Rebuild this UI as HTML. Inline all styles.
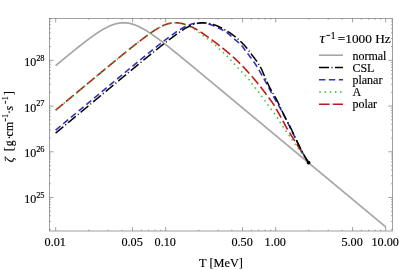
<!DOCTYPE html>
<html><head><meta charset="utf-8"><title>chart</title>
<style>html,body{margin:0;padding:0;background:#fff;overflow:hidden}body{width:399px;height:270px;position:relative;font-family:"Liberation Serif",serif}</style></head>
<body>
<svg width="399" height="270" viewBox="0 0 399 270" style="position:absolute;left:0;top:0;will-change:transform">
<rect width="399" height="270" fill="#fff"/>
<defs><clipPath id="c"><rect x="49.5" y="18.4" width="342.9" height="212.6"/></clipPath></defs>
<g clip-path="url(#c)" fill="none" stroke-linecap="butt" stroke-linejoin="round">
<path d="M55.60,65.63 L56.07,65.24 L56.54,64.85 L57.02,64.46 L57.49,64.07 L57.96,63.68 L58.43,63.29 L58.91,62.90 L59.38,62.51 L59.85,62.12 L60.32,61.74 L60.80,61.35 L61.27,60.96 L61.74,60.57 L62.21,60.18 L62.69,59.79 L63.16,59.41 L63.63,59.02 L64.10,58.63 L64.58,58.24 L65.05,57.86 L65.52,57.47 L65.99,57.08 L66.46,56.70 L66.94,56.31 L67.41,55.93 L67.88,55.54 L68.35,55.15 L68.83,54.77 L69.30,54.39 L69.77,54.00 L70.24,53.62 L70.72,53.23 L71.19,52.85 L71.66,52.47 L72.13,52.08 L72.61,51.70 L73.08,51.32 L73.55,50.94 L74.02,50.56 L74.50,50.18 L74.97,49.80 L75.44,49.42 L75.91,49.04 L76.39,48.66 L76.86,48.29 L77.33,47.91 L77.80,47.53 L78.27,47.16 L78.75,46.78 L79.22,46.41 L79.69,46.03 L80.16,45.66 L80.64,45.29 L81.11,44.92 L81.58,44.55 L82.05,44.18 L82.53,43.81 L83.00,43.44 L83.47,43.07 L83.94,42.71 L84.42,42.34 L84.89,41.98 L85.36,41.62 L85.83,41.25 L86.31,40.89 L86.78,40.54 L87.25,40.18 L87.72,39.82 L88.19,39.47 L88.67,39.11 L89.14,38.76 L89.61,38.41 L90.08,38.06 L90.56,37.72 L91.03,37.37 L91.50,37.03 L91.97,36.68 L92.45,36.35 L92.92,36.01 L93.39,35.67 L93.86,35.34 L94.34,35.01 L94.81,34.68 L95.28,34.35 L95.75,34.03 L96.23,33.70 L96.70,33.38 L97.17,33.07 L97.64,32.75 L98.12,32.44 L98.59,32.14 L99.06,31.83 L99.53,31.53 L100.00,31.23 L100.48,30.93 L100.95,30.64 L101.42,30.35 L101.89,30.07 L102.37,29.79 L102.84,29.51 L103.31,29.24 L103.78,28.97 L104.26,28.70 L104.73,28.44 L105.20,28.19 L105.67,27.93 L106.15,27.69 L106.62,27.44 L107.09,27.21 L107.56,26.97 L108.04,26.75 L108.51,26.52 L108.98,26.31 L109.45,26.10 L109.92,25.89 L110.40,25.69 L110.87,25.50 L111.34,25.31 L111.81,25.12 L112.29,24.95 L112.76,24.78 L113.23,24.61 L113.70,24.46 L114.18,24.31 L114.65,24.16 L115.12,24.03 L115.59,23.90 L116.07,23.77 L116.54,23.66 L117.01,23.55 L117.48,23.44 L117.96,23.35 L118.43,23.26 L118.90,23.18 L119.37,23.11 L119.84,23.04 L120.32,22.99 L120.79,22.94 L121.26,22.89 L121.73,22.86 L122.21,22.83 L122.68,22.81 L123.15,22.80 L123.62,22.80 L124.10,22.80 L124.57,22.82 L125.04,22.84 L125.51,22.86 L125.99,22.90 L126.46,22.94 L126.93,22.99 L127.40,23.05 L127.88,23.12 L128.35,23.19 L128.82,23.27 L129.29,23.36 L129.77,23.45 L130.24,23.56 L130.71,23.67 L131.18,23.78 L131.65,23.91 L132.13,24.04 L132.60,24.18 L133.07,24.32 L133.54,24.47 L134.02,24.63 L134.49,24.80 L134.96,24.97 L135.43,25.14 L135.91,25.33 L136.38,25.52 L136.85,25.71 L137.32,25.91 L137.80,26.12 L138.27,26.33 L138.74,26.55 L139.21,26.77 L139.69,27.00 L140.16,27.23 L140.63,27.47 L141.10,27.71 L141.57,27.96 L142.05,28.21 L142.52,28.47 L142.99,28.73 L143.46,29.00 L143.94,29.27 L144.41,29.54 L144.88,29.82 L145.35,30.10 L145.83,30.38 L146.30,30.67 L146.77,30.96 L147.24,31.26 L147.72,31.56 L148.19,31.86 L148.66,32.17 L149.13,32.47 L149.61,32.79 L150.08,33.10 L150.55,33.42 L151.02,33.74 L151.49,34.06 L151.97,34.38 L152.44,34.71 L152.91,35.04 L153.38,35.37 L153.86,35.71 L154.33,36.04 L154.80,36.38 L155.27,36.72 L155.75,37.06 L156.22,37.41 L156.69,37.75 L157.16,38.10 L157.64,38.45 L158.11,38.80 L158.58,39.15 L159.05,39.50 L159.53,39.86 L160.00,40.21 L160.47,40.57 L160.94,40.93 L161.42,41.29 L161.89,41.65 L162.36,42.02 L162.83,42.38 L163.30,42.74 L163.78,43.11 L164.25,43.48 L164.72,43.85 L165.19,44.21 L165.67,44.58 L166.14,44.95 L166.61,45.33 L167.08,45.70 L167.56,46.07 L168.03,46.44 L168.50,46.82 L168.97,47.19 L169.45,47.57 L169.92,47.95 L170.39,48.32 L170.86,48.70 L171.34,49.08 L171.81,49.46 L172.28,49.84 L172.75,50.22 L173.22,50.60 L173.70,50.98 L174.17,51.36 L174.64,51.74 L175.11,52.12 L175.59,52.51 L176.06,52.89 L176.53,53.27 L177.00,53.66 L177.48,54.04 L177.95,54.42 L178.42,54.81 L178.89,55.19 L179.37,55.58 L179.84,55.96 L180.31,56.35 L180.78,56.74 L181.26,57.12 L181.73,57.51 L182.20,57.90 L182.67,58.28 L183.15,58.67 L183.62,59.06 L184.09,59.45 L184.56,59.83 L185.03,60.22 L185.51,60.61 L185.98,61.00 L186.45,61.39 L186.92,61.78 L187.40,62.16 L187.87,62.55 L188.34,62.94 L188.81,63.33 L189.29,63.72 L189.76,64.11 L190.23,64.50 L190.70,64.89 L191.18,65.28 L191.65,65.67 L192.12,66.06 L192.59,66.45 L193.07,66.84 L193.54,67.23 L194.01,67.62 L194.48,68.01 L194.95,68.40 L195.43,68.79 L195.90,69.18 L196.37,69.58 L196.84,69.97 L197.32,70.36 L197.79,70.75 L198.26,71.14 L198.73,71.53 L199.21,71.92 L199.68,72.31 L200.15,72.70 L200.62,73.10 L201.10,73.49 L201.57,73.88 L202.04,74.27 L202.51,74.66 L202.99,75.05 L203.46,75.45 L203.93,75.84 L204.40,76.23 L204.87,76.62 L205.35,77.01 L205.82,77.40 L206.29,77.80 L206.76,78.19 L207.24,78.58 L207.71,78.97 L208.18,79.36 L208.65,79.76 L209.13,80.15 L209.60,80.54 L210.07,80.93 L210.54,81.32 L211.02,81.72 L211.49,82.11 L211.96,82.50 L212.43,82.89 L212.91,83.29 L213.38,83.68 L213.85,84.07 L214.32,84.46 L214.80,84.85 L215.27,85.25 L215.74,85.64 L216.21,86.03 L216.68,86.42 L217.16,86.82 L217.63,87.21 L218.10,87.60 L218.57,87.99 L219.05,88.39 L219.52,88.78 L219.99,89.17 L220.46,89.56 L220.94,89.96 L221.41,90.35 L221.88,90.74 L222.35,91.13 L222.83,91.53 L223.30,91.92 L223.77,92.31 L224.24,92.70 L224.72,93.10 L225.19,93.49 L225.66,93.88 L226.13,94.27 L226.60,94.67 L227.08,95.06 L227.55,95.45 L228.02,95.84 L228.49,96.24 L228.97,96.63 L229.44,97.02 L229.91,97.41 L230.38,97.81 L230.86,98.20 L231.33,98.59 L231.80,98.98 L232.27,99.38 L232.75,99.77 L233.22,100.16 L233.69,100.55 L234.16,100.95 L234.64,101.34 L235.11,101.73 L235.58,102.12 L236.05,102.52 L236.53,102.91 L237.00,103.30 L237.47,103.70 L237.94,104.09 L238.41,104.48 L238.89,104.87 L239.36,105.27 L239.83,105.66 L240.30,106.05 L240.78,106.44 L241.25,106.84 L241.72,107.23 L242.19,107.62 L242.67,108.01 L243.14,108.41 L243.61,108.80 L244.08,109.19 L244.56,109.58 L245.03,109.98 L245.50,110.37 L245.97,110.76 L246.45,111.16 L246.92,111.55 L247.39,111.94 L247.86,112.33 L248.33,112.73 L248.81,113.12 L249.28,113.51 L249.75,113.90 L250.22,114.30 L250.70,114.69 L251.17,115.08 L251.64,115.47 L252.11,115.87 L252.59,116.26 L253.06,116.65 L253.53,117.05 L254.00,117.44 L254.48,117.83 L254.95,118.22 L255.42,118.62 L255.89,119.01 L256.37,119.40 L256.84,119.79 L257.31,120.19 L257.78,120.58 L258.25,120.97 L258.73,121.36 L259.20,121.76 L259.67,122.15 L260.14,122.54 L260.62,122.94 L261.09,123.33 L261.56,123.72 L262.03,124.11 L262.51,124.51 L262.98,124.90 L263.45,125.29 L263.92,125.68 L264.40,126.08 L264.87,126.47 L265.34,126.86 L265.81,127.25 L266.29,127.65 L266.76,128.04 L267.23,128.43 L267.70,128.83 L268.18,129.22 L268.65,129.61 L269.12,130.00 L269.59,130.40 L270.06,130.79 L270.54,131.18 L271.01,131.57 L271.48,131.97 L271.95,132.36 L272.43,132.75 L272.90,133.15 L273.37,133.54 L273.84,133.93 L274.32,134.32 L274.79,134.72 L275.26,135.11 L275.73,135.50 L276.21,135.89 L276.68,136.29 L277.15,136.68 L277.62,137.07 L278.10,137.46 L278.57,137.86 L279.04,138.25 L279.51,138.64 L279.98,139.04 L280.46,139.43 L280.93,139.82 L281.40,140.21 L281.87,140.61 L282.35,141.00 L282.82,141.39 L283.29,141.78 L283.76,142.18 L284.24,142.57 L284.71,142.96 L285.18,143.35 L285.65,143.75 L286.13,144.14 L286.60,144.53 L287.07,144.93 L287.54,145.32 L288.02,145.71 L288.49,146.10 L288.96,146.50 L289.43,146.89 L289.91,147.28 L290.38,147.67 L290.85,148.07 L291.32,148.46 L291.79,148.85 L292.27,149.25 L292.74,149.64 L293.21,150.03 L293.68,150.42 L294.16,150.82 L294.63,151.21 L295.10,151.60 L295.57,151.99 L296.05,152.39 L296.52,152.78 L296.99,153.17 L297.46,153.56 L297.94,153.96 L298.41,154.35 L298.88,154.74 L299.35,155.14 L299.83,155.53 L300.30,155.92 L300.77,156.31 L301.24,156.71 L301.71,157.10 L302.19,157.49 L302.66,157.88 L303.13,158.28 L303.60,158.67 L304.08,159.06 L304.55,159.45 L305.02,159.85 L305.49,160.24 L305.97,160.63 L306.44,161.03 L306.91,161.42 L307.38,161.81 L307.86,162.20 L308.33,162.60 L308.80,162.99 L309.27,163.38 L309.75,163.77 L310.22,164.17 L310.69,164.56 L311.16,164.95 L311.63,165.35 L312.11,165.74 L312.58,166.13 L313.05,166.52 L313.52,166.92 L314.00,167.31 L314.47,167.70 L314.94,168.09 L315.41,168.49 L315.89,168.88 L316.36,169.27 L316.83,169.66 L317.30,170.06 L317.78,170.45 L318.25,170.84 L318.72,171.24 L319.19,171.63 L319.67,172.02 L320.14,172.41 L320.61,172.81 L321.08,173.20 L321.56,173.59 L322.03,173.98 L322.50,174.38 L322.97,174.77 L323.44,175.16 L323.92,175.55 L324.39,175.95 L324.86,176.34 L325.33,176.73 L325.81,177.13 L326.28,177.52 L326.75,177.91 L327.22,178.30 L327.70,178.70 L328.17,179.09 L328.64,179.48 L329.11,179.87 L329.59,180.27 L330.06,180.66 L330.53,181.05 L331.00,181.45 L331.48,181.84 L331.95,182.23 L332.42,182.62 L332.89,183.02 L333.36,183.41 L333.84,183.80 L334.31,184.19 L334.78,184.59 L335.25,184.98 L335.73,185.37 L336.20,185.76 L336.67,186.16 L337.14,186.55 L337.62,186.94 L338.09,187.34 L338.56,187.73 L339.03,188.12 L339.51,188.51 L339.98,188.91 L340.45,189.30 L340.92,189.69 L341.40,190.08 L341.87,190.48 L342.34,190.87 L342.81,191.26 L343.28,191.66 L343.76,192.05 L344.23,192.44 L344.70,192.83 L345.17,193.23 L345.65,193.62 L346.12,194.01 L346.59,194.40 L347.06,194.80 L347.54,195.19 L348.01,195.58 L348.48,195.97 L348.95,196.37 L349.43,196.76 L349.90,197.15 L350.37,197.55 L350.84,197.94 L351.32,198.33 L351.79,198.72 L352.26,199.12 L352.73,199.51 L353.21,199.90 L353.68,200.29 L354.15,200.69 L354.62,201.08 L355.09,201.47 L355.57,201.86 L356.04,202.26 L356.51,202.65 L356.98,203.04 L357.46,203.44 L357.93,203.83 L358.40,204.22 L358.87,204.61 L359.35,205.01 L359.82,205.40 L360.29,205.79 L360.76,206.18 L361.24,206.58 L361.71,206.97 L362.18,207.36 L362.65,207.76 L363.13,208.15 L363.60,208.54 L364.07,208.93 L364.54,209.33 L365.01,209.72 L365.49,210.11 L365.96,210.50 L366.43,210.90 L366.90,211.29 L367.38,211.68 L367.85,212.07 L368.32,212.47 L368.79,212.86 L369.27,213.25 L369.74,213.65 L370.21,214.04 L370.68,214.43 L371.16,214.82 L371.63,215.22 L372.10,215.61 L372.57,216.00 L373.05,216.39 L373.52,216.79 L373.99,217.18 L374.46,217.57 L374.94,217.96 L375.41,218.36 L375.88,218.75 L376.35,219.14 L376.82,219.54 L377.30,219.93 L377.77,220.32 L378.24,220.71 L378.71,221.11 L379.19,221.50 L379.66,221.89 L380.13,222.28 L380.60,222.68 L381.08,223.07 L381.55,223.46 L382.02,223.86 L382.49,224.25 L382.97,224.64 L383.44,225.03 L383.91,225.43 L384.38,225.82 L384.86,226.21 L385.33,226.60 L385.80,227.00" stroke="#a6a6a6" stroke-width="1.7"/>
<path d="M55.60,130.15 L56.02,129.80 L56.44,129.45 L56.87,129.10 L57.29,128.75 L57.71,128.40 L58.13,128.05 L58.56,127.70 L58.98,127.34 L59.40,126.99 L59.82,126.64 L60.25,126.29 L60.67,125.94 L61.09,125.59 L61.51,125.24 L61.94,124.89 L62.36,124.54 L62.78,124.18 L63.20,123.83 L63.63,123.48 L64.05,123.13 L64.47,122.78 L64.89,122.43 L65.31,122.08 L65.74,121.73 L66.16,121.38 L66.58,121.02 L67.00,120.67 L67.43,120.32 L67.85,119.97 L68.27,119.62 L68.69,119.27 L69.12,118.92 L69.54,118.57 L69.96,118.22 L70.38,117.87 L70.81,117.51 L71.23,117.16 L71.65,116.81 L72.07,116.46 L72.49,116.11 L72.92,115.76 L73.34,115.41 L73.76,115.06 L74.18,114.71 L74.61,114.35 L75.03,114.00 L75.45,113.65 L75.87,113.30 L76.30,112.95 L76.72,112.60 L77.14,112.25 L77.56,111.90 L77.99,111.55 L78.41,111.19 L78.83,110.84 L79.25,110.49 L79.68,110.14 L80.10,109.79 L80.52,109.44 L80.94,109.09 L81.36,108.74 L81.79,108.39 L82.21,108.03 L82.63,107.68 L83.05,107.33 L83.48,106.98 L83.90,106.63 L84.32,106.28 L84.74,105.93 L85.17,105.58 L85.59,105.23 L86.01,104.88 L86.43,104.52 L86.86,104.17 L87.28,103.82 L87.70,103.47 L88.12,103.12 L88.54,102.77 L88.97,102.42 L89.39,102.07 L89.81,101.72 L90.23,101.36 L90.66,101.01 L91.08,100.66 L91.50,100.31 L91.92,99.96 L92.35,99.61 L92.77,99.26 L93.19,98.91 L93.61,98.56 L94.04,98.21 L94.46,97.85 L94.88,97.50 L95.30,97.15 L95.73,96.80 L96.15,96.45 L96.57,96.10 L96.99,95.75 L97.41,95.40 L97.84,95.05 L98.26,94.70 L98.68,94.34 L99.10,93.99 L99.53,93.64 L99.95,93.29 L100.37,92.94 L100.79,92.59 L101.22,92.24 L101.64,91.89 L102.06,91.54 L102.48,91.19 L102.91,90.83 L103.33,90.48 L103.75,90.13 L104.17,89.78 L104.59,89.43 L105.02,89.08 L105.44,88.73 L105.86,88.38 L106.28,88.03 L106.71,87.68 L107.13,87.33 L107.55,86.98 L107.97,86.62 L108.40,86.27 L108.82,85.92 L109.24,85.57 L109.66,85.22 L110.09,84.87 L110.51,84.52 L110.93,84.17 L111.35,83.82 L111.78,83.47 L112.20,83.12 L112.62,82.77 L113.04,82.42 L113.46,82.06 L113.89,81.71 L114.31,81.36 L114.73,81.01 L115.15,80.66 L115.58,80.31 L116.00,79.96 L116.42,79.61 L116.84,79.26 L117.27,78.91 L117.69,78.56 L118.11,78.21 L118.53,77.86 L118.96,77.51 L119.38,77.16 L119.80,76.81 L120.22,76.46 L120.65,76.11 L121.07,75.76 L121.49,75.41 L121.91,75.06 L122.33,74.71 L122.76,74.36 L123.18,74.01 L123.60,73.66 L124.02,73.31 L124.45,72.96 L124.87,72.61 L125.29,72.26 L125.71,71.91 L126.14,71.56 L126.56,71.21 L126.98,70.86 L127.40,70.51 L127.83,70.16 L128.25,69.81 L128.67,69.46 L129.09,69.11 L129.51,68.76 L129.94,68.41 L130.36,68.06 L130.78,67.71 L131.20,67.36 L131.63,67.01 L132.05,66.66 L132.47,66.31 L132.89,65.97 L133.32,65.62 L133.74,65.27 L134.16,64.92 L134.58,64.57 L135.01,64.22 L135.43,63.87 L135.85,63.53 L136.27,63.18 L136.70,62.83 L137.12,62.48 L137.54,62.13 L137.96,61.79 L138.38,61.44 L138.81,61.09 L139.23,60.74 L139.65,60.40 L140.07,60.05 L140.50,59.70 L140.92,59.36 L141.34,59.01 L141.76,58.66 L142.19,58.32 L142.61,57.97 L143.03,57.63 L143.45,57.28 L143.88,56.93 L144.30,56.59 L144.72,56.24 L145.14,55.90 L145.56,55.55 L145.99,55.21 L146.41,54.87 L146.83,54.52 L147.25,54.18 L147.68,53.83 L148.10,53.49 L148.52,53.15 L148.94,52.81 L149.37,52.46 L149.79,52.12 L150.21,51.78 L150.63,51.44 L151.06,51.10 L151.48,50.76 L151.90,50.42 L152.32,50.08 L152.75,49.74 L153.17,49.40 L153.59,49.06 L154.01,48.72 L154.43,48.38 L154.86,48.05 L155.28,47.71 L155.70,47.37 L156.12,47.04 L156.55,46.70 L156.97,46.37 L157.39,46.03 L157.81,45.70 L158.24,45.37 L158.66,45.03 L159.08,44.70 L159.50,44.37 L159.93,44.04 L160.35,43.72 L160.77,43.39 L161.19,43.06 L161.62,42.74 L162.04,42.41 L162.46,42.09 L162.88,41.77 L163.30,41.45 L163.73,41.12 L164.15,40.80 L164.57,40.48 L164.99,40.17 L165.42,39.85 L165.84,39.53 L166.26,39.21 L166.68,38.90 L167.11,38.58 L167.53,38.27 L167.95,37.95 L168.37,37.64 L168.80,37.33 L169.22,37.02 L169.64,36.70 L170.06,36.39 L170.48,36.09 L170.91,35.78 L171.33,35.47 L171.75,35.16 L172.17,34.86 L172.60,34.56 L173.02,34.25 L173.44,33.95 L173.86,33.66 L174.29,33.36 L174.71,33.07 L175.13,32.77 L175.55,32.48 L175.98,32.19 L176.40,31.91 L176.82,31.62 L177.24,31.34 L177.67,31.06 L178.09,30.79 L178.51,30.51 L178.93,30.24 L179.35,29.98 L179.78,29.71 L180.20,29.45 L180.62,29.20 L181.04,28.94 L181.47,28.69 L181.89,28.44 L182.31,28.20 L182.73,27.96 L183.16,27.73 L183.58,27.50 L184.00,27.27 L184.42,27.05 L184.85,26.83 L185.27,26.62 L185.69,26.41 L186.11,26.21 L186.53,26.01 L186.96,25.82 L187.38,25.63 L187.80,25.45 L188.22,25.28 L188.65,25.11 L189.07,24.94 L189.49,24.78 L189.91,24.63 L190.34,24.48 L190.76,24.34 L191.18,24.20 L191.60,24.07 L192.03,23.94 L192.45,23.83 L192.87,23.72 L193.29,23.61 L193.72,23.51 L194.14,23.42 L194.56,23.33 L194.98,23.25 L195.40,23.18 L195.83,23.11 L196.25,23.05 L196.67,23.00 L197.09,22.95 L197.52,22.91 L197.94,22.88 L198.36,22.85 L198.78,22.83 L199.21,22.81 L199.63,22.80 L200.05,22.80 L200.47,22.80 L200.90,22.81 L201.32,22.83 L201.74,22.85 L202.16,22.88 L202.58,22.92 L203.01,22.96 L203.43,23.00 L203.85,23.06 L204.27,23.12 L204.70,23.18 L205.12,23.25 L205.54,23.33 L205.96,23.41 L206.39,23.49 L206.81,23.59 L207.23,23.69 L207.65,23.79 L208.08,23.90 L208.50,24.01 L208.92,24.13 L209.34,24.25 L209.77,24.38 L210.19,24.52 L210.61,24.66 L211.03,24.80 L211.45,24.95 L211.88,25.10 L212.30,25.25 L212.72,25.41 L213.14,25.58 L213.57,25.75 L213.99,25.92 L214.41,26.10 L214.83,26.28 L215.26,26.46 L215.68,26.65 L216.10,26.84 L216.52,27.04 L216.95,27.24 L217.37,27.44 L217.79,27.64 L218.21,27.85 L218.64,28.06 L219.06,28.26 L219.48,28.47 L219.90,28.68 L220.32,28.89 L220.75,29.10 L221.17,29.31 L221.59,29.53 L222.01,29.75 L222.44,29.97 L222.86,30.20 L223.28,30.43 L223.70,30.67 L224.13,30.91 L224.55,31.16 L224.97,31.41 L225.39,31.67 L225.82,31.94 L226.24,32.22 L226.66,32.51 L227.08,32.81 L227.50,33.12 L227.93,33.44 L228.35,33.77 L228.77,34.11 L229.19,34.46 L229.62,34.81 L230.04,35.17 L230.46,35.54 L230.88,35.91 L231.31,36.29 L231.73,36.66 L232.15,37.04 L232.57,37.42 L233.00,37.80 L233.42,38.18 L233.84,38.56 L234.26,38.93 L234.69,39.30 L235.11,39.66 L235.53,40.02 L235.95,40.37 L236.37,40.73 L236.80,41.08 L237.22,41.44 L237.64,41.80 L238.06,42.16 L238.49,42.53 L238.91,42.90 L239.33,43.29 L239.75,43.68 L240.18,44.08 L240.60,44.49 L241.02,44.92 L241.44,45.36 L241.87,45.82 L242.29,46.30 L242.71,46.82 L243.13,47.38 L243.55,47.96 L243.98,48.57 L244.40,49.18 L244.82,49.79 L245.24,50.39 L245.67,50.96 L246.09,51.53 L246.51,52.09 L246.93,52.64 L247.36,53.20 L247.78,53.74 L248.20,54.29 L248.62,54.83 L249.05,55.38 L249.47,55.92 L249.89,56.47 L250.31,57.02 L250.74,57.57 L251.16,58.13 L251.58,58.69 L252.00,59.26 L252.42,59.83 L252.85,60.42 L253.27,61.01 L253.69,61.61 L254.11,62.23 L254.54,62.85 L254.96,63.49 L255.38,64.14 L255.80,64.80 L256.23,65.47 L256.65,66.14 L257.07,66.82 L257.49,67.52 L257.92,68.21 L258.34,68.92 L258.76,69.63 L259.18,70.35 L259.61,71.07 L260.03,71.80 L260.45,72.53 L260.87,73.27 L261.29,74.01 L261.72,74.75 L262.14,75.49 L262.56,76.24 L262.98,76.99 L263.41,77.74 L263.83,78.49 L264.25,79.24 L264.67,79.99 L265.10,80.75 L265.52,81.52 L265.94,82.29 L266.36,83.08 L266.79,83.86 L267.21,84.66 L267.63,85.46 L268.05,86.26 L268.47,87.06 L268.90,87.87 L269.32,88.68 L269.74,89.49 L270.16,90.29 L270.59,91.10 L271.01,91.90 L271.43,92.70 L271.85,93.50 L272.28,94.29 L272.70,95.07 L273.12,95.85 L273.54,96.62 L273.97,97.38 L274.39,98.13 L274.81,98.87 L275.23,99.60 L275.66,100.32 L276.08,101.04 L276.50,101.75 L276.92,102.46 L277.34,103.17 L277.77,103.88 L278.19,104.60 L278.61,105.33 L279.03,106.07 L279.46,106.82 L279.88,107.59 L280.30,108.36 L280.72,109.14 L281.15,109.92 L281.57,110.71 L281.99,111.51 L282.41,112.31 L282.84,113.12 L283.26,113.93 L283.68,114.74 L284.10,115.56 L284.52,116.38 L284.95,117.20 L285.37,118.03 L285.79,118.86 L286.21,119.69 L286.64,120.52 L287.06,121.36 L287.48,122.19 L287.90,123.03 L288.33,123.87 L288.75,124.70 L289.17,125.54 L289.59,126.38 L290.02,127.23 L290.44,128.09 L290.86,128.96 L291.28,129.83 L291.71,130.71 L292.13,131.59 L292.55,132.47 L292.97,133.36 L293.39,134.25 L293.82,135.14 L294.24,136.03 L294.66,136.92 L295.08,137.81 L295.51,138.70 L295.93,139.58 L296.35,140.46 L296.77,141.34 L297.20,142.22 L297.62,143.08 L298.04,143.95 L298.46,144.80 L298.89,145.65 L299.31,146.48 L299.73,147.31 L300.15,148.13 L300.57,148.94 L301.00,149.74 L301.42,150.52 L301.84,151.30 L302.26,152.07 L302.69,152.83 L303.11,153.58 L303.53,154.33 L303.95,155.07 L304.38,155.81 L304.80,156.54 L305.22,157.26 L305.64,157.97 L306.07,158.68 L306.49,159.39 L306.91,160.09 L307.33,160.78 L307.76,161.46 L308.18,162.15 L308.60,162.82" stroke="#3232c0" stroke-width="1.6" stroke-dasharray="6.4 3.6"/>
<path d="M55.60,110.20 L56.02,109.85 L56.44,109.50 L56.87,109.15 L57.29,108.80 L57.71,108.45 L58.13,108.10 L58.56,107.75 L58.98,107.39 L59.40,107.04 L59.82,106.69 L60.25,106.34 L60.67,105.99 L61.09,105.64 L61.51,105.29 L61.94,104.94 L62.36,104.59 L62.78,104.24 L63.20,103.88 L63.63,103.53 L64.05,103.18 L64.47,102.83 L64.89,102.48 L65.31,102.13 L65.74,101.78 L66.16,101.43 L66.58,101.08 L67.00,100.72 L67.43,100.37 L67.85,100.02 L68.27,99.67 L68.69,99.32 L69.12,98.97 L69.54,98.62 L69.96,98.27 L70.38,97.92 L70.81,97.57 L71.23,97.21 L71.65,96.86 L72.07,96.51 L72.49,96.16 L72.92,95.81 L73.34,95.46 L73.76,95.11 L74.18,94.76 L74.61,94.41 L75.03,94.06 L75.45,93.70 L75.87,93.35 L76.30,93.00 L76.72,92.65 L77.14,92.30 L77.56,91.95 L77.99,91.60 L78.41,91.25 L78.83,90.90 L79.25,90.55 L79.68,90.20 L80.10,89.84 L80.52,89.49 L80.94,89.14 L81.36,88.79 L81.79,88.44 L82.21,88.09 L82.63,87.74 L83.05,87.39 L83.48,87.04 L83.90,86.69 L84.32,86.34 L84.74,85.99 L85.17,85.63 L85.59,85.28 L86.01,84.93 L86.43,84.58 L86.86,84.23 L87.28,83.88 L87.70,83.53 L88.12,83.18 L88.54,82.83 L88.97,82.48 L89.39,82.13 L89.81,81.78 L90.23,81.43 L90.66,81.08 L91.08,80.72 L91.50,80.37 L91.92,80.02 L92.35,79.67 L92.77,79.32 L93.19,78.97 L93.61,78.62 L94.04,78.27 L94.46,77.92 L94.88,77.57 L95.30,77.22 L95.73,76.87 L96.15,76.52 L96.57,76.17 L96.99,75.82 L97.41,75.47 L97.84,75.12 L98.26,74.77 L98.68,74.42 L99.10,74.07 L99.53,73.72 L99.95,73.37 L100.37,73.02 L100.79,72.67 L101.22,72.32 L101.64,71.97 L102.06,71.62 L102.48,71.27 L102.91,70.92 L103.33,70.57 L103.75,70.22 L104.17,69.87 L104.59,69.52 L105.02,69.17 L105.44,68.82 L105.86,68.47 L106.28,68.12 L106.71,67.77 L107.13,67.42 L107.55,67.07 L107.97,66.73 L108.40,66.38 L108.82,66.03 L109.24,65.68 L109.66,65.33 L110.09,64.98 L110.51,64.63 L110.93,64.28 L111.35,63.94 L111.78,63.59 L112.20,63.24 L112.62,62.89 L113.04,62.54 L113.46,62.20 L113.89,61.85 L114.31,61.50 L114.73,61.15 L115.15,60.81 L115.58,60.46 L116.00,60.11 L116.42,59.76 L116.84,59.42 L117.27,59.07 L117.69,58.72 L118.11,58.38 L118.53,58.03 L118.96,57.69 L119.38,57.34 L119.80,57.00 L120.22,56.65 L120.65,56.30 L121.07,55.96 L121.49,55.62 L121.91,55.27 L122.33,54.93 L122.76,54.58 L123.18,54.24 L123.60,53.90 L124.02,53.55 L124.45,53.21 L124.87,52.87 L125.29,52.52 L125.71,52.18 L126.14,51.84 L126.56,51.50 L126.98,51.16 L127.40,50.82 L127.83,50.48 L128.25,50.14 L128.67,49.80 L129.09,49.46 L129.51,49.12 L129.94,48.78 L130.36,48.44 L130.78,48.11 L131.20,47.77 L131.63,47.43 L132.05,47.10 L132.47,46.76 L132.89,46.43 L133.32,46.09 L133.74,45.76 L134.16,45.43 L134.58,45.09 L135.01,44.76 L135.43,44.43 L135.85,44.10 L136.27,43.77 L136.70,43.44 L137.12,43.11 L137.54,42.79 L137.96,42.46 L138.38,42.14 L138.81,41.82 L139.23,41.50 L139.65,41.18 L140.07,40.86 L140.50,40.54 L140.92,40.22 L141.34,39.91 L141.76,39.59 L142.19,39.27 L142.61,38.96 L143.03,38.64 L143.45,38.33 L143.88,38.01 L144.30,37.70 L144.72,37.39 L145.14,37.07 L145.56,36.76 L145.99,36.44 L146.41,36.13 L146.83,35.82 L147.25,35.51 L147.68,35.20 L148.10,34.89 L148.52,34.58 L148.94,34.27 L149.37,33.97 L149.79,33.66 L150.21,33.36 L150.63,33.06 L151.06,32.76 L151.48,32.46 L151.90,32.17 L152.32,31.87 L152.75,31.58 L153.17,31.30 L153.59,31.01 L154.01,30.73 L154.43,30.45 L154.86,30.17 L155.28,29.90 L155.70,29.63 L156.12,29.36 L156.55,29.10 L156.97,28.84 L157.39,28.58 L157.81,28.33 L158.24,28.08 L158.66,27.84 L159.08,27.60 L159.50,27.36 L159.93,27.13 L160.35,26.91 L160.77,26.69 L161.19,26.47 L161.62,26.26 L162.04,26.06 L162.46,25.86 L162.88,25.67 L163.30,25.48 L163.73,25.29 L164.15,25.12 L164.57,24.95 L164.99,24.78 L165.42,24.62 L165.84,24.47 L166.26,24.33 L166.68,24.19 L167.11,24.05 L167.53,23.93 L167.95,23.81 L168.37,23.69 L168.80,23.59 L169.22,23.49 L169.64,23.39 L170.06,23.31 L170.48,23.23 L170.91,23.16 L171.33,23.09 L171.75,23.03 L172.17,22.98 L172.60,22.93 L173.02,22.89 L173.44,22.86 L173.86,22.84 L174.29,22.82 L174.71,22.81 L175.13,22.80 L175.55,22.80 L175.98,22.81 L176.40,22.82 L176.82,22.84 L177.24,22.87 L177.67,22.90 L178.09,22.94 L178.51,22.98 L178.93,23.03 L179.35,23.08 L179.78,23.14 L180.20,23.21 L180.62,23.28 L181.04,23.36 L181.47,23.44 L181.89,23.53 L182.31,23.62 L182.73,23.72 L183.16,23.82 L183.58,23.93 L184.00,24.04 L184.42,24.16 L184.85,24.28 L185.27,24.41 L185.69,24.54 L186.11,24.68 L186.53,24.82 L186.96,24.97 L187.38,25.12 L187.80,25.28 L188.22,25.44 L188.65,25.60 L189.07,25.77 L189.49,25.95 L189.91,26.12 L190.34,26.31 L190.76,26.49 L191.18,26.68 L191.60,26.88 L192.03,27.08 L192.45,27.28 L192.87,27.49 L193.29,27.70 L193.72,27.92 L194.14,28.14 L194.56,28.36 L194.98,28.59 L195.40,28.82 L195.83,29.06 L196.25,29.30 L196.67,29.54 L197.09,29.79 L197.52,30.04 L197.94,30.30 L198.36,30.56 L198.78,30.82 L199.21,31.08 L199.63,31.35 L200.05,31.62 L200.47,31.89 L200.90,32.17 L201.32,32.44 L201.74,32.72 L202.16,33.01 L202.58,33.29 L203.01,33.58 L203.43,33.87 L203.85,34.16 L204.27,34.45 L204.70,34.74 L205.12,35.04 L205.54,35.34 L205.96,35.64 L206.39,35.93 L206.81,36.23 L207.23,36.54 L207.65,36.84 L208.08,37.14 L208.50,37.44 L208.92,37.75 L209.34,38.05 L209.77,38.36 L210.19,38.66 L210.61,38.97 L211.03,39.28 L211.45,39.59 L211.88,39.89 L212.30,40.20 L212.72,40.51 L213.14,40.83 L213.57,41.14 L213.99,41.45 L214.41,41.77 L214.83,42.08 L215.26,42.40 L215.68,42.71 L216.10,43.03 L216.52,43.35 L216.95,43.68 L217.37,44.00 L217.79,44.32 L218.21,44.65 L218.64,44.97 L219.06,45.30 L219.48,45.63 L219.90,45.96 L220.32,46.30 L220.75,46.63 L221.17,46.97 L221.59,47.30 L222.01,47.64 L222.44,47.97 L222.86,48.31 L223.28,48.65 L223.70,48.99 L224.13,49.33 L224.55,49.67 L224.97,50.01 L225.39,50.35 L225.82,50.70 L226.24,51.04 L226.66,51.39 L227.08,51.74 L227.50,52.10 L227.93,52.45 L228.35,52.81 L228.77,53.17 L229.19,53.53 L229.62,53.89 L230.04,54.26 L230.46,54.63 L230.88,55.00 L231.31,55.37 L231.73,55.75 L232.15,56.12 L232.57,56.50 L233.00,56.88 L233.42,57.26 L233.84,57.65 L234.26,58.03 L234.69,58.42 L235.11,58.81 L235.53,59.20 L235.95,59.60 L236.37,60.00 L236.80,60.39 L237.22,60.80 L237.64,61.20 L238.06,61.61 L238.49,62.01 L238.91,62.43 L239.33,62.84 L239.75,63.26 L240.18,63.68 L240.60,64.10 L241.02,64.52 L241.44,64.95 L241.87,65.39 L242.29,65.82 L242.71,66.27 L243.13,66.71 L243.55,67.16 L243.98,67.61 L244.40,68.07 L244.82,68.53 L245.24,68.99 L245.67,69.45 L246.09,69.91 L246.51,70.38 L246.93,70.85 L247.36,71.32 L247.78,71.79 L248.20,72.26 L248.62,72.73 L249.05,73.20 L249.47,73.67 L249.89,74.14 L250.31,74.61 L250.74,75.09 L251.16,75.56 L251.58,76.03 L252.00,76.50 L252.42,76.98 L252.85,77.46 L253.27,77.94 L253.69,78.42 L254.11,78.91 L254.54,79.40 L254.96,79.90 L255.38,80.40 L255.80,80.91 L256.23,81.42 L256.65,81.94 L257.07,82.47 L257.49,82.99 L257.92,83.53 L258.34,84.06 L258.76,84.60 L259.18,85.13 L259.61,85.67 L260.03,86.21 L260.45,86.75 L260.87,87.29 L261.29,87.83 L261.72,88.37 L262.14,88.92 L262.56,89.47 L262.98,90.01 L263.41,90.57 L263.83,91.12 L264.25,91.67 L264.67,92.23 L265.10,92.79 L265.52,93.35 L265.94,93.91 L266.36,94.48 L266.79,95.05 L267.21,95.62 L267.63,96.18 L268.05,96.74 L268.47,97.30 L268.90,97.87 L269.32,98.43 L269.74,99.00 L270.16,99.57 L270.59,100.14 L271.01,100.73 L271.43,101.31 L271.85,101.91 L272.28,102.51 L272.70,103.13 L273.12,103.75 L273.54,104.39 L273.97,105.03 L274.39,105.70 L274.81,106.38 L275.23,107.09 L275.66,107.81 L276.08,108.55 L276.50,109.30 L276.92,110.06 L277.34,110.82 L277.77,111.60 L278.19,112.37 L278.61,113.14 L279.03,113.92 L279.46,114.68 L279.88,115.44 L280.30,116.20 L280.72,116.97 L281.15,117.74 L281.57,118.52 L281.99,119.29 L282.41,120.08 L282.84,120.86 L283.26,121.64 L283.68,122.42 L284.10,123.20 L284.52,123.98 L284.95,124.75 L285.37,125.52 L285.79,126.28 L286.21,127.04 L286.64,127.79 L287.06,128.53 L287.48,129.26 L287.90,129.98 L288.33,130.68 L288.75,131.38 L289.17,132.08 L289.59,132.76 L290.02,133.44 L290.44,134.12 L290.86,134.79 L291.28,135.45 L291.71,136.11 L292.13,136.78 L292.55,137.43 L292.97,138.09 L293.39,138.75 L293.82,139.41 L294.24,140.07 L294.66,140.73 L295.08,141.40 L295.51,142.07 L295.93,142.74 L296.35,143.41 L296.77,144.08 L297.20,144.75 L297.62,145.42 L298.04,146.09 L298.46,146.76 L298.89,147.43 L299.31,148.11 L299.73,148.78 L300.15,149.45 L300.57,150.12 L301.00,150.79 L301.42,151.45 L301.84,152.12 L302.26,152.79 L302.69,153.46 L303.11,154.13 L303.53,154.80 L303.95,155.47 L304.38,156.14 L304.80,156.81 L305.22,157.48 L305.64,158.15 L306.07,158.81 L306.49,159.48 L306.91,160.15 L307.33,160.82 L307.76,161.49 L308.18,162.15 L308.60,162.82" stroke="#c01818" stroke-width="1.6" stroke-dasharray="10 3.6"/>
<path d="M55.60,110.20 L56.02,109.85 L56.44,109.50 L56.87,109.15 L57.29,108.80 L57.71,108.45 L58.13,108.10 L58.56,107.75 L58.98,107.39 L59.40,107.04 L59.82,106.69 L60.25,106.34 L60.67,105.99 L61.09,105.64 L61.51,105.29 L61.94,104.94 L62.36,104.59 L62.78,104.24 L63.20,103.88 L63.63,103.53 L64.05,103.18 L64.47,102.83 L64.89,102.48 L65.31,102.13 L65.74,101.78 L66.16,101.43 L66.58,101.08 L67.00,100.72 L67.43,100.37 L67.85,100.02 L68.27,99.67 L68.69,99.32 L69.12,98.97 L69.54,98.62 L69.96,98.27 L70.38,97.92 L70.81,97.57 L71.23,97.21 L71.65,96.86 L72.07,96.51 L72.49,96.16 L72.92,95.81 L73.34,95.46 L73.76,95.11 L74.18,94.76 L74.61,94.41 L75.03,94.06 L75.45,93.70 L75.87,93.35 L76.30,93.00 L76.72,92.65 L77.14,92.30 L77.56,91.95 L77.99,91.60 L78.41,91.25 L78.83,90.90 L79.25,90.55 L79.68,90.20 L80.10,89.84 L80.52,89.49 L80.94,89.14 L81.36,88.79 L81.79,88.44 L82.21,88.09 L82.63,87.74 L83.05,87.39 L83.48,87.04 L83.90,86.69 L84.32,86.34 L84.74,85.99 L85.17,85.63 L85.59,85.28 L86.01,84.93 L86.43,84.58 L86.86,84.23 L87.28,83.88 L87.70,83.53 L88.12,83.18 L88.54,82.83 L88.97,82.48 L89.39,82.13 L89.81,81.78 L90.23,81.43 L90.66,81.08 L91.08,80.72 L91.50,80.37 L91.92,80.02 L92.35,79.67 L92.77,79.32 L93.19,78.97 L93.61,78.62 L94.04,78.27 L94.46,77.92 L94.88,77.57 L95.30,77.22 L95.73,76.87 L96.15,76.52 L96.57,76.17 L96.99,75.82 L97.41,75.47 L97.84,75.12 L98.26,74.77 L98.68,74.42 L99.10,74.07 L99.53,73.72 L99.95,73.37 L100.37,73.02 L100.79,72.67 L101.22,72.32 L101.64,71.97 L102.06,71.62 L102.48,71.27 L102.91,70.92 L103.33,70.57 L103.75,70.22 L104.17,69.87 L104.59,69.52 L105.02,69.17 L105.44,68.82 L105.86,68.47 L106.28,68.12 L106.71,67.77 L107.13,67.42 L107.55,67.07 L107.97,66.73 L108.40,66.38 L108.82,66.03 L109.24,65.68 L109.66,65.33 L110.09,64.98 L110.51,64.63 L110.93,64.28 L111.35,63.94 L111.78,63.59 L112.20,63.24 L112.62,62.89 L113.04,62.54 L113.46,62.20 L113.89,61.85 L114.31,61.50 L114.73,61.15 L115.15,60.81 L115.58,60.46 L116.00,60.11 L116.42,59.76 L116.84,59.42 L117.27,59.07 L117.69,58.72 L118.11,58.38 L118.53,58.03 L118.96,57.69 L119.38,57.34 L119.80,57.00 L120.22,56.65 L120.65,56.30 L121.07,55.96 L121.49,55.62 L121.91,55.27 L122.33,54.93 L122.76,54.58 L123.18,54.24 L123.60,53.90 L124.02,53.55 L124.45,53.21 L124.87,52.87 L125.29,52.52 L125.71,52.18 L126.14,51.84 L126.56,51.50 L126.98,51.16 L127.40,50.82 L127.83,50.48 L128.25,50.14 L128.67,49.80 L129.09,49.46 L129.51,49.12 L129.94,48.78 L130.36,48.44 L130.78,48.11 L131.20,47.77 L131.63,47.43 L132.05,47.10 L132.47,46.76 L132.89,46.43 L133.32,46.09 L133.74,45.76 L134.16,45.43 L134.58,45.09 L135.01,44.76 L135.43,44.43 L135.85,44.10 L136.27,43.77 L136.70,43.44 L137.12,43.11 L137.54,42.79 L137.96,42.46 L138.38,42.14 L138.81,41.82 L139.23,41.50 L139.65,41.18 L140.07,40.86 L140.50,40.54 L140.92,40.22 L141.34,39.91 L141.76,39.59 L142.19,39.27 L142.61,38.96 L143.03,38.64 L143.45,38.33 L143.88,38.01 L144.30,37.70 L144.72,37.39 L145.14,37.07 L145.56,36.76 L145.99,36.45 L146.41,36.13 L146.83,35.82 L147.25,35.51 L147.68,35.20 L148.10,34.90 L148.52,34.59 L148.94,34.29 L149.37,33.98 L149.79,33.68 L150.21,33.38 L150.63,33.09 L151.06,32.79 L151.48,32.50 L151.90,32.20 L152.32,31.92 L152.75,31.63 L153.17,31.34 L153.59,31.06 L154.01,30.78 L154.43,30.51 L154.86,30.23 L155.28,29.96 L155.70,29.70 L156.12,29.43 L156.55,29.17 L156.97,28.92 L157.39,28.66 L157.81,28.41 L158.24,28.17 L158.66,27.92 L159.08,27.69 L159.50,27.45 L159.93,27.23 L160.35,27.00 L160.77,26.78 L161.19,26.57 L161.62,26.36 L162.04,26.15 L162.46,25.95 L162.88,25.75 L163.30,25.57 L163.73,25.38 L164.15,25.20 L164.57,25.03 L164.99,24.86 L165.42,24.70 L165.84,24.55 L166.26,24.40 L166.68,24.25 L167.11,24.12 L167.53,23.99 L167.95,23.86 L168.37,23.74 L168.80,23.63 L169.22,23.53 L169.64,23.43 L170.06,23.34 L170.48,23.26 L170.91,23.18 L171.33,23.11 L171.75,23.05 L172.17,22.99 L172.60,22.94 L173.02,22.90 L173.44,22.87 L173.86,22.84 L174.29,22.82 L174.71,22.81 L175.13,22.80 L175.55,22.80 L175.98,22.81 L176.40,22.82 L176.82,22.85 L177.24,22.87 L177.67,22.91 L178.09,22.95 L178.51,23.00 L178.93,23.05 L179.35,23.12 L179.78,23.18 L180.20,23.26 L180.62,23.34 L181.04,23.43 L181.47,23.52 L181.89,23.62 L182.31,23.73 L182.73,23.84 L183.16,23.96 L183.58,24.08 L184.00,24.21 L184.42,24.35 L184.85,24.49 L185.27,24.64 L185.69,24.79 L186.11,24.95 L186.53,25.12 L186.96,25.29 L187.38,25.47 L187.80,25.65 L188.22,25.84 L188.65,26.03 L189.07,26.23 L189.49,26.44 L189.91,26.65 L190.34,26.86 L190.76,27.08 L191.18,27.31 L191.60,27.54 L192.03,27.78 L192.45,28.02 L192.87,28.27 L193.29,28.52 L193.72,28.78 L194.14,29.05 L194.56,29.31 L194.98,29.59 L195.40,29.87 L195.83,30.16 L196.25,30.46 L196.67,30.77 L197.09,31.08 L197.52,31.39 L197.94,31.71 L198.36,32.03 L198.78,32.34 L199.21,32.66 L199.63,32.97 L200.05,33.27 L200.47,33.58 L200.90,33.89 L201.32,34.19 L201.74,34.50 L202.16,34.80 L202.58,35.11 L203.01,35.41 L203.43,35.72 L203.85,36.02 L204.27,36.33 L204.70,36.64 L205.12,36.95 L205.54,37.26 L205.96,37.58 L206.39,37.89 L206.81,38.21 L207.23,38.54 L207.65,38.87 L208.08,39.20 L208.50,39.54 L208.92,39.88 L209.34,40.22 L209.77,40.56 L210.19,40.90 L210.61,41.24 L211.03,41.59 L211.45,41.94 L211.88,42.29 L212.30,42.64 L212.72,43.00 L213.14,43.35 L213.57,43.71 L213.99,44.07 L214.41,44.44 L214.83,44.81 L215.26,45.18 L215.68,45.55 L216.10,45.93 L216.52,46.31 L216.95,46.70 L217.37,47.09 L217.79,47.49 L218.21,47.90 L218.64,48.30 L219.06,48.71 L219.48,49.12 L219.90,49.52 L220.32,49.92 L220.75,50.31 L221.17,50.70 L221.59,51.09 L222.01,51.48 L222.44,51.87 L222.86,52.25 L223.28,52.64 L223.70,53.03 L224.13,53.41 L224.55,53.80 L224.97,54.19 L225.39,54.58 L225.82,54.98 L226.24,55.38 L226.66,55.78 L227.08,56.19 L227.50,56.61 L227.93,57.03 L228.35,57.45 L228.77,57.89 L229.19,58.32 L229.62,58.77 L230.04,59.21 L230.46,59.66 L230.88,60.12 L231.31,60.58 L231.73,61.04 L232.15,61.50 L232.57,61.97 L233.00,62.44 L233.42,62.91 L233.84,63.38 L234.26,63.85 L234.69,64.32 L235.11,64.79 L235.53,65.26 L235.95,65.72 L236.37,66.19 L236.80,66.65 L237.22,67.11 L237.64,67.57 L238.06,68.03 L238.49,68.48 L238.91,68.93 L239.33,69.37 L239.75,69.81 L240.18,70.25 L240.60,70.69 L241.02,71.13 L241.44,71.56 L241.87,72.00 L242.29,72.43 L242.71,72.87 L243.13,73.30 L243.55,73.73 L243.98,74.17 L244.40,74.61 L244.82,75.05 L245.24,75.49 L245.67,75.93 L246.09,76.38 L246.51,76.83 L246.93,77.27 L247.36,77.71 L247.78,78.14 L248.20,78.59 L248.62,79.05 L249.05,79.52 L249.47,80.02 L249.89,80.54 L250.31,81.11 L250.74,81.71 L251.16,82.34 L251.58,82.98 L252.00,83.61 L252.42,84.23 L252.85,84.83 L253.27,85.39 L253.69,85.95 L254.11,86.49 L254.54,87.03 L254.96,87.55 L255.38,88.07 L255.80,88.59 L256.23,89.10 L256.65,89.62 L257.07,90.13 L257.49,90.65 L257.92,91.17 L258.34,91.70 L258.76,92.24 L259.18,92.78 L259.61,93.34 L260.03,93.91 L260.45,94.48 L260.87,95.06 L261.29,95.65 L261.72,96.24 L262.14,96.83 L262.56,97.43 L262.98,98.03 L263.41,98.63 L263.83,99.23 L264.25,99.83 L264.67,100.43 L265.10,101.02 L265.52,101.61 L265.94,102.19 L266.36,102.78 L266.79,103.36 L267.21,103.94 L267.63,104.51 L268.05,105.09 L268.47,105.67 L268.90,106.24 L269.32,106.82 L269.74,107.39 L270.16,107.96 L270.59,108.54 L271.01,109.10 L271.43,109.67 L271.85,110.24 L272.28,110.80 L272.70,111.36 L273.12,111.90 L273.54,112.44 L273.97,112.98 L274.39,113.52 L274.81,114.08 L275.23,114.65 L275.66,115.24 L276.08,115.85 L276.50,116.48 L276.92,117.14 L277.34,117.80 L277.77,118.48 L278.19,119.17 L278.61,119.86 L279.03,120.56 L279.46,121.25 L279.88,121.93 L280.30,122.61 L280.72,123.27 L281.15,123.92 L281.57,124.56 L281.99,125.20 L282.41,125.83 L282.84,126.46 L283.26,127.09 L283.68,127.71 L284.10,128.33 L284.52,128.95 L284.95,129.57 L285.37,130.18 L285.79,130.80 L286.21,131.41 L286.64,132.02 L287.06,132.62 L287.48,133.23 L287.90,133.84 L288.33,134.45 L288.75,135.05 L289.17,135.66 L289.59,136.27 L290.02,136.88 L290.44,137.49 L290.86,138.10 L291.28,138.70 L291.71,139.31 L292.13,139.92 L292.55,140.52 L292.97,141.12 L293.39,141.73 L293.82,142.33 L294.24,142.93 L294.66,143.53 L295.08,144.13 L295.51,144.72 L295.93,145.32 L296.35,145.91 L296.77,146.51 L297.20,147.10 L297.62,147.69 L298.04,148.28 L298.46,148.87 L298.89,149.46 L299.31,150.05 L299.73,150.64 L300.15,151.23 L300.57,151.82 L301.00,152.40 L301.42,152.99 L301.84,153.58 L302.26,154.16 L302.69,154.74 L303.11,155.33 L303.53,155.91 L303.95,156.49 L304.38,157.07 L304.80,157.65 L305.22,158.23 L305.64,158.81 L306.07,159.38 L306.49,159.96 L306.91,160.53 L307.33,161.11 L307.76,161.68 L308.18,162.25 L308.60,162.82" stroke="#22bb22" stroke-width="1.6" stroke-dasharray="1.5 3.8" stroke-opacity="0.85"/>
<path d="M55.60,133.15 L56.02,132.79 L56.44,132.44 L56.87,132.09 L57.29,131.74 L57.71,131.39 L58.13,131.04 L58.56,130.69 L58.98,130.34 L59.40,129.99 L59.82,129.63 L60.25,129.28 L60.67,128.93 L61.09,128.58 L61.51,128.23 L61.94,127.88 L62.36,127.53 L62.78,127.18 L63.20,126.83 L63.63,126.48 L64.05,126.12 L64.47,125.77 L64.89,125.42 L65.31,125.07 L65.74,124.72 L66.16,124.37 L66.58,124.02 L67.00,123.67 L67.43,123.32 L67.85,122.96 L68.27,122.61 L68.69,122.26 L69.12,121.91 L69.54,121.56 L69.96,121.21 L70.38,120.86 L70.81,120.51 L71.23,120.16 L71.65,119.80 L72.07,119.45 L72.49,119.10 L72.92,118.75 L73.34,118.40 L73.76,118.05 L74.18,117.70 L74.61,117.35 L75.03,117.00 L75.45,116.64 L75.87,116.29 L76.30,115.94 L76.72,115.59 L77.14,115.24 L77.56,114.89 L77.99,114.54 L78.41,114.19 L78.83,113.84 L79.25,113.48 L79.68,113.13 L80.10,112.78 L80.52,112.43 L80.94,112.08 L81.36,111.73 L81.79,111.38 L82.21,111.03 L82.63,110.68 L83.05,110.32 L83.48,109.97 L83.90,109.62 L84.32,109.27 L84.74,108.92 L85.17,108.57 L85.59,108.22 L86.01,107.87 L86.43,107.52 L86.86,107.17 L87.28,106.81 L87.70,106.46 L88.12,106.11 L88.54,105.76 L88.97,105.41 L89.39,105.06 L89.81,104.71 L90.23,104.36 L90.66,104.01 L91.08,103.65 L91.50,103.30 L91.92,102.95 L92.35,102.60 L92.77,102.25 L93.19,101.90 L93.61,101.55 L94.04,101.20 L94.46,100.85 L94.88,100.50 L95.30,100.14 L95.73,99.79 L96.15,99.44 L96.57,99.09 L96.99,98.74 L97.41,98.39 L97.84,98.04 L98.26,97.69 L98.68,97.34 L99.10,96.98 L99.53,96.63 L99.95,96.28 L100.37,95.93 L100.79,95.58 L101.22,95.23 L101.64,94.88 L102.06,94.53 L102.48,94.18 L102.91,93.83 L103.33,93.48 L103.75,93.12 L104.17,92.77 L104.59,92.42 L105.02,92.07 L105.44,91.72 L105.86,91.37 L106.28,91.02 L106.71,90.67 L107.13,90.32 L107.55,89.97 L107.97,89.61 L108.40,89.26 L108.82,88.91 L109.24,88.56 L109.66,88.21 L110.09,87.86 L110.51,87.51 L110.93,87.16 L111.35,86.81 L111.78,86.46 L112.20,86.11 L112.62,85.76 L113.04,85.40 L113.46,85.05 L113.89,84.70 L114.31,84.35 L114.73,84.00 L115.15,83.65 L115.58,83.30 L116.00,82.95 L116.42,82.60 L116.84,82.25 L117.27,81.90 L117.69,81.55 L118.11,81.20 L118.53,80.85 L118.96,80.50 L119.38,80.14 L119.80,79.79 L120.22,79.44 L120.65,79.09 L121.07,78.74 L121.49,78.39 L121.91,78.04 L122.33,77.69 L122.76,77.34 L123.18,76.99 L123.60,76.64 L124.02,76.29 L124.45,75.94 L124.87,75.59 L125.29,75.24 L125.71,74.89 L126.14,74.54 L126.56,74.19 L126.98,73.84 L127.40,73.49 L127.83,73.14 L128.25,72.79 L128.67,72.44 L129.09,72.09 L129.51,71.74 L129.94,71.39 L130.36,71.04 L130.78,70.69 L131.20,70.34 L131.63,69.99 L132.05,69.64 L132.47,69.29 L132.89,68.94 L133.32,68.59 L133.74,68.24 L134.16,67.89 L134.58,67.54 L135.01,67.20 L135.43,66.85 L135.85,66.50 L136.27,66.15 L136.70,65.80 L137.12,65.45 L137.54,65.10 L137.96,64.75 L138.38,64.40 L138.81,64.06 L139.23,63.71 L139.65,63.36 L140.07,63.01 L140.50,62.66 L140.92,62.32 L141.34,61.97 L141.76,61.62 L142.19,61.27 L142.61,60.93 L143.03,60.58 L143.45,60.23 L143.88,59.88 L144.30,59.54 L144.72,59.19 L145.14,58.84 L145.56,58.50 L145.99,58.15 L146.41,57.81 L146.83,57.46 L147.25,57.11 L147.68,56.77 L148.10,56.42 L148.52,56.08 L148.94,55.73 L149.37,55.39 L149.79,55.05 L150.21,54.70 L150.63,54.36 L151.06,54.01 L151.48,53.67 L151.90,53.33 L152.32,52.98 L152.75,52.64 L153.17,52.30 L153.59,51.96 L154.01,51.62 L154.43,51.28 L154.86,50.93 L155.28,50.59 L155.70,50.25 L156.12,49.91 L156.55,49.58 L156.97,49.24 L157.39,48.90 L157.81,48.56 L158.24,48.22 L158.66,47.89 L159.08,47.55 L159.50,47.21 L159.93,46.88 L160.35,46.54 L160.77,46.21 L161.19,45.87 L161.62,45.54 L162.04,45.21 L162.46,44.88 L162.88,44.55 L163.30,44.22 L163.73,43.89 L164.15,43.56 L164.57,43.24 L164.99,42.91 L165.42,42.59 L165.84,42.27 L166.26,41.94 L166.68,41.62 L167.11,41.30 L167.53,40.98 L167.95,40.66 L168.37,40.34 L168.80,40.02 L169.22,39.71 L169.64,39.39 L170.06,39.07 L170.48,38.76 L170.91,38.44 L171.33,38.12 L171.75,37.81 L172.17,37.50 L172.60,37.18 L173.02,36.87 L173.44,36.55 L173.86,36.24 L174.29,35.93 L174.71,35.62 L175.13,35.31 L175.55,35.00 L175.98,34.69 L176.40,34.38 L176.82,34.08 L177.24,33.77 L177.67,33.47 L178.09,33.17 L178.51,32.87 L178.93,32.57 L179.35,32.28 L179.78,31.98 L180.20,31.69 L180.62,31.40 L181.04,31.12 L181.47,30.84 L181.89,30.56 L182.31,30.28 L182.73,30.01 L183.16,29.73 L183.58,29.47 L184.00,29.20 L184.42,28.94 L184.85,28.69 L185.27,28.43 L185.69,28.18 L186.11,27.94 L186.53,27.70 L186.96,27.46 L187.38,27.23 L187.80,27.01 L188.22,26.79 L188.65,26.57 L189.07,26.36 L189.49,26.15 L189.91,25.95 L190.34,25.75 L190.76,25.56 L191.18,25.38 L191.60,25.20 L192.03,25.03 L192.45,24.86 L192.87,24.70 L193.29,24.55 L193.72,24.40 L194.14,24.26 L194.56,24.12 L194.98,23.99 L195.40,23.87 L195.83,23.75 L196.25,23.64 L196.67,23.54 L197.09,23.44 L197.52,23.35 L197.94,23.27 L198.36,23.19 L198.78,23.13 L199.21,23.06 L199.63,23.01 L200.05,22.96 L200.47,22.92 L200.90,22.88 L201.32,22.85 L201.74,22.83 L202.16,22.81 L202.58,22.80 L203.01,22.80 L203.43,22.80 L203.85,22.81 L204.27,22.83 L204.70,22.85 L205.12,22.88 L205.54,22.91 L205.96,22.95 L206.39,23.00 L206.81,23.05 L207.23,23.10 L207.65,23.17 L208.08,23.24 L208.50,23.31 L208.92,23.39 L209.34,23.47 L209.77,23.56 L210.19,23.66 L210.61,23.75 L211.03,23.86 L211.45,23.97 L211.88,24.08 L212.30,24.20 L212.72,24.33 L213.14,24.46 L213.57,24.59 L213.99,24.73 L214.41,24.87 L214.83,25.02 L215.26,25.18 L215.68,25.33 L216.10,25.49 L216.52,25.66 L216.95,25.83 L217.37,26.01 L217.79,26.19 L218.21,26.37 L218.64,26.56 L219.06,26.75 L219.48,26.95 L219.90,27.15 L220.32,27.36 L220.75,27.57 L221.17,27.78 L221.59,28.00 L222.01,28.22 L222.44,28.44 L222.86,28.66 L223.28,28.89 L223.70,29.11 L224.13,29.35 L224.55,29.58 L224.97,29.82 L225.39,30.06 L225.82,30.30 L226.24,30.55 L226.66,30.80 L227.08,31.06 L227.50,31.31 L227.93,31.57 L228.35,31.84 L228.77,32.11 L229.19,32.38 L229.62,32.66 L230.04,32.94 L230.46,33.23 L230.88,33.52 L231.31,33.81 L231.73,34.11 L232.15,34.42 L232.57,34.73 L233.00,35.05 L233.42,35.37 L233.84,35.69 L234.26,36.01 L234.69,36.34 L235.11,36.68 L235.53,37.01 L235.95,37.35 L236.37,37.70 L236.80,38.05 L237.22,38.40 L237.64,38.76 L238.06,39.12 L238.49,39.49 L238.91,39.86 L239.33,40.24 L239.75,40.63 L240.18,41.02 L240.60,41.42 L241.02,41.82 L241.44,42.23 L241.87,42.65 L242.29,43.07 L242.71,43.50 L243.13,43.94 L243.55,44.39 L243.98,44.85 L244.40,45.32 L244.82,45.80 L245.24,46.29 L245.67,46.79 L246.09,47.29 L246.51,47.80 L246.93,48.32 L247.36,48.85 L247.78,49.38 L248.20,49.92 L248.62,50.46 L249.05,51.01 L249.47,51.56 L249.89,52.12 L250.31,52.68 L250.74,53.24 L251.16,53.80 L251.58,54.37 L252.00,54.93 L252.42,55.50 L252.85,56.07 L253.27,56.63 L253.69,57.18 L254.11,57.74 L254.54,58.30 L254.96,58.87 L255.38,59.43 L255.80,60.01 L256.23,60.59 L256.65,61.18 L257.07,61.78 L257.49,62.39 L257.92,63.01 L258.34,63.65 L258.76,64.31 L259.18,64.99 L259.61,65.68 L260.03,66.39 L260.45,67.13 L260.87,67.90 L261.29,68.73 L261.72,69.60 L262.14,70.52 L262.56,71.47 L262.98,72.45 L263.41,73.45 L263.83,74.46 L264.25,75.47 L264.67,76.49 L265.10,77.49 L265.52,78.47 L265.94,79.43 L266.36,80.36 L266.79,81.28 L267.21,82.20 L267.63,83.11 L268.05,84.02 L268.47,84.91 L268.90,85.79 L269.32,86.64 L269.74,87.48 L270.16,88.29 L270.59,89.08 L271.01,89.85 L271.43,90.61 L271.85,91.36 L272.28,92.09 L272.70,92.82 L273.12,93.55 L273.54,94.27 L273.97,94.99 L274.39,95.72 L274.81,96.45 L275.23,97.19 L275.66,97.94 L276.08,98.70 L276.50,99.47 L276.92,100.27 L277.34,101.08 L277.77,101.92 L278.19,102.77 L278.61,103.64 L279.03,104.53 L279.46,105.43 L279.88,106.33 L280.30,107.24 L280.72,108.16 L281.15,109.08 L281.57,109.99 L281.99,110.90 L282.41,111.81 L282.84,112.70 L283.26,113.59 L283.68,114.45 L284.10,115.30 L284.52,116.14 L284.95,116.96 L285.37,117.77 L285.79,118.57 L286.21,119.36 L286.64,120.15 L287.06,120.94 L287.48,121.73 L287.90,122.52 L288.33,123.32 L288.75,124.13 L289.17,124.95 L289.59,125.78 L290.02,126.62 L290.44,127.47 L290.86,128.33 L291.28,129.20 L291.71,130.07 L292.13,130.95 L292.55,131.84 L292.97,132.73 L293.39,133.62 L293.82,134.51 L294.24,135.41 L294.66,136.31 L295.08,137.20 L295.51,138.10 L295.93,138.99 L296.35,139.89 L296.77,140.78 L297.20,141.66 L297.62,142.55 L298.04,143.42 L298.46,144.29 L298.89,145.16 L299.31,146.01 L299.73,146.86 L300.15,147.70 L300.57,148.53 L301.00,149.34 L301.42,150.15 L301.84,150.94 L302.26,151.73 L302.69,152.51 L303.11,153.29 L303.53,154.06 L303.95,154.82 L304.38,155.57 L304.80,156.32 L305.22,157.07 L305.64,157.80 L306.07,158.54 L306.49,159.26 L306.91,159.99 L307.33,160.70 L307.76,161.41 L308.18,162.12 L308.60,162.82" stroke="#000" stroke-width="1.5" stroke-dasharray="10 2.6 1.1 2.6"/>
</g>
<circle cx="308.6" cy="162.55" r="1.9" fill="#000"/>
<g stroke="#666" stroke-width="0.62" fill="none">
<rect x="49.5" y="18.4" width="342.9" height="212.6"/>
<path d="M55.70,231.0v-4.0M55.70,18.4v4.0M88.81,231.0v-1.3M88.81,18.4v1.3M108.18,231.0v-1.3M108.18,18.4v1.3M121.93,231.0v-1.3M121.93,18.4v1.3M132.59,231.0v-4.0M132.59,18.4v4.0M141.30,231.0v-1.3M141.30,18.4v1.3M148.66,231.0v-1.3M148.66,18.4v1.3M155.04,231.0v-1.3M155.04,18.4v1.3M160.67,231.0v-1.3M160.67,18.4v1.3M165.70,231.0v-4.0M165.70,18.4v4.0M198.81,231.0v-1.3M198.81,18.4v1.3M218.18,231.0v-1.3M218.18,18.4v1.3M231.93,231.0v-1.3M231.93,18.4v1.3M242.59,231.0v-4.0M242.59,18.4v4.0M251.30,231.0v-1.3M251.30,18.4v1.3M258.66,231.0v-1.3M258.66,18.4v1.3M265.04,231.0v-1.3M265.04,18.4v1.3M270.67,231.0v-1.3M270.67,18.4v1.3M275.70,231.0v-4.0M275.70,18.4v4.0M308.81,231.0v-1.3M308.81,18.4v1.3M328.18,231.0v-1.3M328.18,18.4v1.3M341.93,231.0v-1.3M341.93,18.4v1.3M352.59,231.0v-4.0M352.59,18.4v4.0M361.30,231.0v-1.3M361.30,18.4v1.3M368.66,231.0v-1.3M368.66,18.4v1.3M375.04,231.0v-1.3M375.04,18.4v1.3M380.67,231.0v-1.3M380.67,18.4v1.3M385.70,231.0v-4.0M385.70,18.4v4.0M49.5,229.47h1.3M392.4,229.47h-1.3M49.5,221.42h1.3M392.4,221.42h-1.3M49.5,215.70h1.3M392.4,215.70h-1.3M49.5,211.27h1.3M392.4,211.27h-1.3M49.5,207.65h1.3M392.4,207.65h-1.3M49.5,204.59h1.3M392.4,204.59h-1.3M49.5,201.94h1.3M392.4,201.94h-1.3M49.5,199.60h1.3M392.4,199.60h-1.3M49.5,197.51h4.0M392.4,197.51h-4.0M49.5,183.75h1.3M392.4,183.75h-1.3M49.5,175.70h1.3M392.4,175.70h-1.3M49.5,169.98h1.3M392.4,169.98h-1.3M49.5,165.55h1.3M392.4,165.55h-1.3M49.5,161.93h1.3M392.4,161.93h-1.3M49.5,158.87h1.3M392.4,158.87h-1.3M49.5,156.22h1.3M392.4,156.22h-1.3M49.5,153.88h1.3M392.4,153.88h-1.3M49.5,151.79h4.0M392.4,151.79h-4.0M49.5,138.03h1.3M392.4,138.03h-1.3M49.5,129.98h1.3M392.4,129.98h-1.3M49.5,124.26h1.3M392.4,124.26h-1.3M49.5,119.83h1.3M392.4,119.83h-1.3M49.5,116.21h1.3M392.4,116.21h-1.3M49.5,113.15h1.3M392.4,113.15h-1.3M49.5,110.50h1.3M392.4,110.50h-1.3M49.5,108.16h1.3M392.4,108.16h-1.3M49.5,106.07h4.0M392.4,106.07h-4.0M49.5,92.31h1.3M392.4,92.31h-1.3M49.5,84.26h1.3M392.4,84.26h-1.3M49.5,78.54h1.3M392.4,78.54h-1.3M49.5,74.11h1.3M392.4,74.11h-1.3M49.5,70.49h1.3M392.4,70.49h-1.3M49.5,67.43h1.3M392.4,67.43h-1.3M49.5,64.78h1.3M392.4,64.78h-1.3M49.5,62.44h1.3M392.4,62.44h-1.3M49.5,60.35h4.0M392.4,60.35h-4.0M49.5,46.59h1.3M392.4,46.59h-1.3M49.5,38.54h1.3M392.4,38.54h-1.3M49.5,32.82h1.3M392.4,32.82h-1.3M49.5,28.39h1.3M392.4,28.39h-1.3M49.5,24.77h1.3M392.4,24.77h-1.3M49.5,21.71h1.3M392.4,21.71h-1.3M49.5,19.06h1.3M392.4,19.06h-1.3"/>
</g>
<g font-family="Liberation Serif, serif" fill="#000" stroke="#000" stroke-width="0.15" stroke-linejoin="round">
<text x="55.20" y="245.6" font-size="12.2" text-anchor="middle">0.01</text>
<text x="132.09" y="245.6" font-size="12.2" text-anchor="middle">0.05</text>
<text x="165.20" y="245.6" font-size="12.2" text-anchor="middle">0.10</text>
<text x="242.09" y="245.6" font-size="12.2" text-anchor="middle">0.50</text>
<text x="275.20" y="245.6" font-size="12.2" text-anchor="middle">1.00</text>
<text x="352.09" y="245.6" font-size="12.2" text-anchor="middle">5.00</text>
<text x="385.20" y="245.6" font-size="12.2" text-anchor="middle">10.00</text>
<text x="44.5" y="65.85" font-size="12" text-anchor="end">10<tspan font-size="8.4" dy="-5.2">28</tspan></text>
<text x="44.5" y="111.57" font-size="12" text-anchor="end">10<tspan font-size="8.4" dy="-5.2">27</tspan></text>
<text x="44.5" y="157.29" font-size="12" text-anchor="end">10<tspan font-size="8.4" dy="-5.2">26</tspan></text>
<text x="44.5" y="203.01" font-size="12" text-anchor="end">10<tspan font-size="8.4" dy="-5.2">25</tspan></text>
<text x="221" y="267.0" font-size="12.3" text-anchor="middle">T [MeV]</text>
<g transform="translate(13.0,0) rotate(-90)" font-size="11.6"><text x="-162.6" y="0" font-size="13" font-style="italic">ζ</text><text x="-151.0" y="0">[</text><text x="-146.2" y="0">g</text><text x="-139.4" y="0">·</text><text x="-136.5" y="0">c</text><text x="-131.1" y="0">m</text><path d="M-121.4,-7.6H-118.3" stroke="#000" stroke-width="0.9" fill="none"/><text x="-117.9" y="-4.6" font-size="8">1</text><text x="-114.0" y="0">·</text><text x="-110.6" y="0" font-style="italic">s</text><path d="M-103.8,-7.6H-100.7" stroke="#000" stroke-width="0.9" fill="none"/><text x="-100.3" y="-4.6" font-size="8">1</text><text x="-95.0" y="0">]</text></g>
<text transform="translate(319.2,42.6) scale(1.25,1)" font-size="13.7" font-style="italic" stroke="none">τ</text>
<path d="M326.4,35.4H330.1" stroke="#000" stroke-width="0.95" fill="none"/>
<text x="330.8" y="38.5" font-size="9.6">1</text>
<text x="337.8" y="42.6" font-size="13.3">=1000 Hz</text>
<text x="352.4" y="59.6" font-size="12">normal</text>
<text x="352.4" y="71.6" font-size="12">CSL</text>
<text x="352.4" y="83.6" font-size="12">planar</text>
<text x="352.4" y="95.6" font-size="12">A</text>
<text x="352.4" y="107.6" font-size="12">polar</text>
</g>
<g fill="none" stroke-width="1.6">
<path d="M319,55.2H343" stroke="#a6a6a6"/>
<path d="M319,67.5H343" stroke="#000" stroke-dasharray="10 2.5 1 2.5"/>
<path d="M319,79.8H343" stroke="#3232c0" stroke-dasharray="6.4 3.5"/>
<path d="M319.3,92.0H343" stroke="#22bb22" stroke-dasharray="1.5 3.7"/>
<path d="M319,104.3H343" stroke="#c01818" stroke-dasharray="10.5 3.3"/>
</g>
</svg>
</body></html>
